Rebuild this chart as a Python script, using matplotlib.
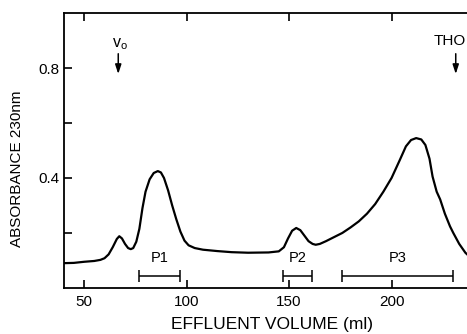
import matplotlib
matplotlib.use("Agg")
import matplotlib.pyplot as plt

plt.rcParams["font.family"] = ["Liberation Sans", "DejaVu Sans"]

# elution profile (effluent volume in ml, absorbance at 230 nm)
volume = [40, 45, 50, 55, 58, 60, 62, 64, 66, 67.2, 68.5, 70, 71.5, 72.8, 74, 75.5,
          77, 78.5, 80, 82, 84, 86, 87.5, 89, 91, 93, 95, 97, 99, 101, 104, 108,
          115, 122, 130, 140, 145, 147.5, 149.5, 151.5, 153.5, 155.5, 157.5, 159.5,
          161.5, 163, 165, 168, 172, 176, 180, 184, 188, 192, 196, 200, 204, 207,
          209.5, 212, 214.5, 216.5, 218.5, 220, 222, 223.7, 226, 228.5, 230.1, 233,
          236, 240]
absorbance = [0.090, 0.091, 0.095, 0.098, 0.102, 0.108, 0.122, 0.148, 0.178, 0.188,
              0.180, 0.160, 0.145, 0.141, 0.145, 0.168, 0.215, 0.290, 0.350, 0.395,
              0.418, 0.425, 0.420, 0.400, 0.355, 0.300, 0.250, 0.205, 0.172, 0.155,
              0.145, 0.139, 0.134, 0.130, 0.128, 0.129, 0.133, 0.148, 0.180, 0.208,
              0.218, 0.210, 0.190, 0.170, 0.160, 0.157, 0.160, 0.170, 0.185, 0.200,
              0.220, 0.242, 0.270, 0.305, 0.350, 0.400, 0.465, 0.515, 0.538, 0.545,
              0.540, 0.520, 0.470, 0.405, 0.350, 0.322, 0.270, 0.224, 0.200, 0.160,
              0.128, 0.100]

# pooled fractions
pool_names = ["P1", "P2", "P3"]
pool_start = [77, 147, 176]
pool_end = [97, 161, 230]

# markers: void volume and the second marker at the right edge
marker_labels = ["v$_\\mathregular{o}$", "THO"]
marker_volume = [66.7, 231.3]

fig = plt.figure(figsize=(4.67, 3.34), dpi=100)
ax = fig.add_axes([0.136, 0.138, 0.922, 0.823])

ax.plot(volume, absorbance, color="black", lw=1.6)

bar_y = 0.044
for name, s, e in zip(pool_names, pool_start, pool_end):
    mid = (s + e) / 2
    ax.errorbar(mid, bar_y, xerr=(e - s) / 2, color="black", lw=1.1,
                capsize=4, capthick=1.1, fmt="none")
    ax.text(mid, 0.093, name, ha="center", va="baseline", fontsize=10.5)

for i, (lab, v) in enumerate(zip(marker_labels, marker_volume)):
    ax.annotate("", xy=(v, 0.768), xytext=(v, 0.862),
                arrowprops=dict(arrowstyle="-|>,head_width=0.18,head_length=0.55",
                                color="black", lw=1.1))
    if i == 0:
        ax.text(v + 0.8, 0.876, lab, ha="center", va="baseline", fontsize=11.5)
    else:
        # kept just inside the right edge so the whole label shows
        ax.text(v - 11, 0.882, lab, ha="left", va="baseline", fontsize=11)

ax.set_xlim(40, 250)
ax.set_ylim(0, 1.0)
ax.set_xticks([50, 100, 150, 200])
ax.set_yticks([0.2, 0.4, 0.6, 0.8])
ax.set_yticklabels(["", "0.4", "", "0.8"])
ax.tick_params(axis="x", direction="in", length=5.5, width=1.2, top=True,
               labelsize=11, pad=5)
ax.tick_params(axis="y", direction="in", length=5.5, width=1.2, right=True,
               labelsize=11, pad=3)
for spine in ax.spines.values():
    spine.set_linewidth(1.3)

fig.text(272 / 467, 1 - 325 / 334, "EFFLUENT VOLUME (ml)", ha="center",
         va="center", fontsize=12.5)
fig.text(17 / 467, 1 - 169 / 334, "ABSORBANCE 230nm", ha="center", va="center",
         rotation=90, fontsize=11)

fig.savefig("out.png", dpi=100)
